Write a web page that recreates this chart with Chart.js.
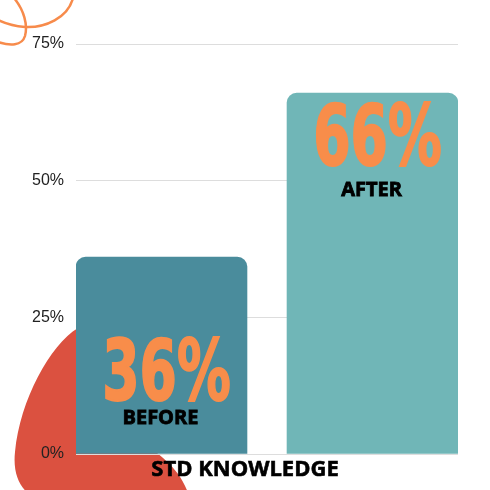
<!DOCTYPE html>
<html lang="en">
<head>
  <meta charset="UTF-8">
  <title>STD Knowledge</title>
  <script src="https://cdn.jsdelivr.net/npm/chart.js"></script>
  <style>
    * { margin: 0; padding: 0; box-sizing: border-box; }
    body { background: #ffffff; width: 490px; height: 490px; overflow: hidden; }
    .chart-box { position: relative; width: 490px; height: 490px; }
  </style>
</head>
<body>
  <div class="chart-box">
    <canvas id="knowledgeChart"></canvas>
  </div>

  <script>
    const categories = ['BEFORE', 'AFTER'];
    const knowledgeValues = [36, 66];
    const tickValues = [0, 25, 50, 75];
    const barColors = ['#4a8c9c', '#70b6b7'];
    const axisTitle = 'STD KNOWLEDGE';

    // background shapes (orange loop, red blob)
    const decorPlugin = {
      id: 'decor',
      beforeDraw(chart) {
        const ctx = chart.ctx;
        ctx.save();
        ctx.fillStyle = '#db5140';
        ctx.beginPath();
        ctx.moveTo(78, 328);
        ctx.bezierCurveTo(50, 345, 20, 400, 15, 452);
        ctx.bezierCurveTo(12, 480, 25, 495, 40, 500);
        ctx.lineTo(190, 500);
        ctx.bezierCurveTo(183, 470, 160, 455, 140, 440);
        ctx.bezierCurveTo(110, 420, 100, 360, 78, 328);
        ctx.closePath();
        ctx.fill();

        ctx.strokeStyle = '#f78b4b';
        ctx.lineWidth = 2.5;
        ctx.beginPath();
        ctx.moveTo(73, -2);
        ctx.bezierCurveTo(68, 18, 45, 28, 25, 27);
        ctx.bezierCurveTo(12, 26, 4, 23, -2, 20);
        ctx.stroke();
        ctx.beginPath();
        ctx.moveTo(14, -2);
        ctx.bezierCurveTo(24, 10, 28, 25, 25, 36);
        ctx.bezierCurveTo(22, 46, 10, 46, -2, 42);
        ctx.stroke();
        ctx.restore();
      }
    };

    // big percentage + category text inside each bar, axis title under the plot
    const barTextPlugin = {
      id: 'barText',
      afterDatasetsDraw(chart) {
        const ctx = chart.ctx;
        const meta = chart.getDatasetMeta(0);
        const numOffsets = [143, 72];
        const wordOffsets = [161, 97];
        meta.data.forEach((bar, i) => {
          const cx = bar.x;
          ctx.save();
          ctx.translate(cx + 5, bar.y + numOffsets[i]);
          ctx.scale(0.64, 1);
          ctx.font = 'bold 84px "DejaVu Sans"';
          ctx.fillStyle = '#f88d4a';
          ctx.strokeStyle = '#f88d4a';
          ctx.lineWidth = 2;
          ctx.textAlign = 'center';
          ctx.textBaseline = 'alphabetic';
          ctx.fillText(knowledgeValues[i] + '%', 0, 0);
          ctx.strokeText(knowledgeValues[i] + '%', 0, 0);
          ctx.restore();

          ctx.save();
          ctx.font = 'bold 20px "Open Sans"';
          ctx.textAlign = 'center';
          ctx.textBaseline = 'middle';
          ctx.fillStyle = '#000000';
          ctx.strokeStyle = '#000000';
          ctx.lineWidth = 0.8;
          ctx.fillText(categories[i], cx - 1, bar.y + wordOffsets[i]);
          ctx.strokeText(categories[i], cx - 1, bar.y + wordOffsets[i]);
          ctx.restore();
        });

        ctx.save();
        ctx.font = 'bold 22px "Open Sans"';
        ctx.textAlign = 'center';
        ctx.textBaseline = 'middle';
        ctx.fillStyle = '#000000';
        ctx.strokeStyle = '#000000';
        ctx.lineWidth = 0.6;
        ctx.fillText(axisTitle, chart.width / 2, chart.chartArea.bottom + 16);
        ctx.strokeText(axisTitle, chart.width / 2, chart.chartArea.bottom + 16);
        ctx.restore();
      }
    };

    const chartData = {
      datasets: [{
        data: knowledgeValues.map((v, i) => ({ x: i, y: v })),
        backgroundColor: barColors,
        borderRadius: { topLeft: 10, topRight: 10 },
        borderSkipped: 'bottom',
        barThickness: 171
      }]
    };

    const chartConfig = {
      type: 'bar',
      data: chartData,
      options: {
        responsive: false,
        animation: false,
        layout: {
          padding: { top: 44, right: 32, left: 0, bottom: 0 }
        },
        plugins: {
          legend: { display: false },
          tooltip: { enabled: false }
        },
        scales: {
          x: {
            type: 'linear',
            offset: false,
            min: -0.405,
            max: categories.length - 1 + 0.405,
            grid: { display: false },
            border: { display: false },
            ticks: { display: false },
            afterFit(scale) { scale.height = 36; }
          },
          y: {
            min: 0,
            max: 75,
            afterBuildTicks(scale) {
              scale.ticks = tickValues.map(v => ({ value: v }));
            },
            grid: { color: '#dddddd', lineWidth: 1, drawTicks: false },
            border: { display: false },
            ticks: {
              color: '#222222',
              padding: 12,
              font: { family: 'Liberation Sans', size: 16 },
              callback: v => v + '%'
            },
            afterFit(scale) { scale.width = 76; }
          }
        }
      },
      plugins: [decorPlugin, barTextPlugin]
    };

    const canvas = document.getElementById('knowledgeChart');
    canvas.width = 490;
    canvas.height = 490;
    new Chart(canvas.getContext('2d'), chartConfig);
  </script>
</body>
</html>
